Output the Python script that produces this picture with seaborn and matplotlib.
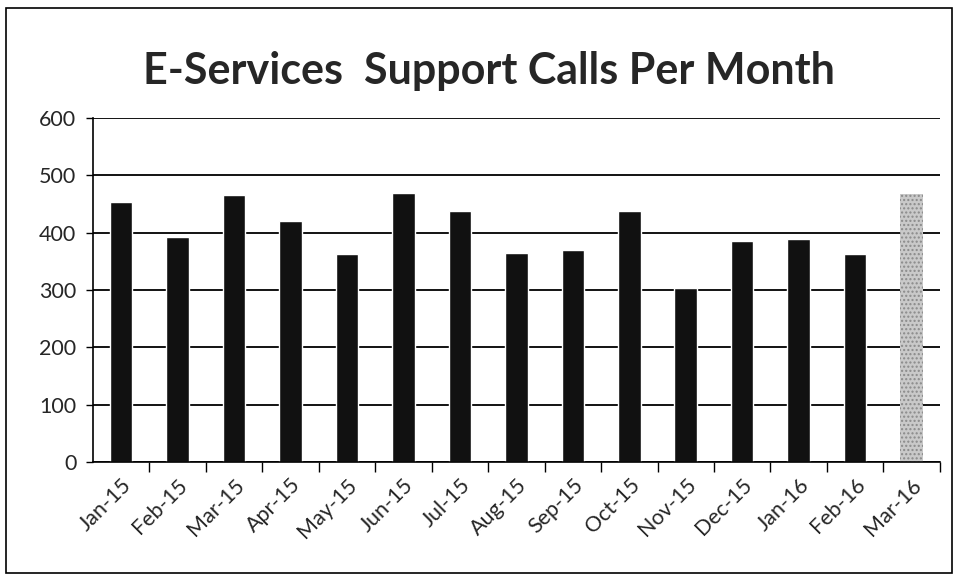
"""E-Services support calls per month, bar chart."""

import matplotlib.pyplot as plt
import pandas as pd
import seaborn as sns
from matplotlib.patches import Rectangle

MONTHS = [
    "Jan-15", "Feb-15", "Mar-15", "Apr-15", "May-15", "Jun-15", "Jul-15",
    "Aug-15", "Sep-15", "Oct-15", "Nov-15", "Dec-15", "Jan-16", "Feb-16",
    "Mar-16",
]
CALLS = [454, 393, 466, 420, 363, 469, 438, 365, 370, 437, 303, 385, 388, 362, 468]
KIND = ["actual"] * 14 + ["partial"]
Y_TICKS = [0, 100, 200, 300, 400, 500, 600]

BAR_COLORS = {"actual": "#111111", "partial": "#c9c9c9"}

sns.set_theme(style="white")
plt.rcParams["font.family"] = ["Lato", "DejaVu Sans"]

df = pd.DataFrame({"month": MONTHS, "calls": CALLS, "kind": KIND})

fig = plt.figure(figsize=(9.58, 5.8), dpi=100)
axis = fig.add_axes([0.097, 0.203, 0.884, 0.594])

sns.barplot(
    data=df,
    x="month",
    y="calls",
    hue="kind",
    palette=BAR_COLORS,
    dodge=False,
    width=0.4,
    legend=False,
    ax=axis,
)
for patch, kind in zip(axis.patches, KIND):
    if kind == "partial":
        patch.set_hatch("....")
        patch.set_edgecolor("#8a8a8a")
        patch.set_linewidth(0)

axis.set_ylim(0, 600)
axis.set_xlim(-0.5, len(MONTHS) - 0.5)
axis.set_yticks(Y_TICKS)
axis.set_yticklabels([str(t) for t in Y_TICKS], fontsize=15.5)
axis.yaxis.grid(True, color="black", linewidth=1.3)
axis.set_axisbelow(True)
axis.set_xlabel("")
axis.set_ylabel("")

# category labels centred on the bars, tick marks between them (Excel style)
axis.set_xticks(range(len(MONTHS)))
axis.set_xticklabels(MONTHS, rotation=45, ha="right", rotation_mode="anchor", fontsize=15.5)
axis.tick_params(axis="x", length=0, pad=9)
axis.set_xticks([i + 0.5 for i in range(len(MONTHS))], minor=True)
axis.tick_params(axis="x", which="minor", length=7, width=1, color="black", bottom=True)
axis.tick_params(axis="y", length=5, width=1, color="black", left=True, pad=7)

for side in ["top", "right"]:
    axis.spines[side].set_visible(False)
for side in ["left", "bottom"]:
    axis.spines[side].set_color("black")
    axis.spines[side].set_linewidth(1.2)

fig.text(
    0.51, 0.878, "E-Services  Support Calls Per Month",
    ha="center", va="center", fontsize=31, fontweight="bold",
)

fig.patches.append(
    Rectangle((0.006, 0.012), 0.988, 0.975, transform=fig.transFigure,
              fill=False, edgecolor="black", linewidth=1.2)
)

fig.savefig("out.png", dpi=100)
plt.close(fig)
